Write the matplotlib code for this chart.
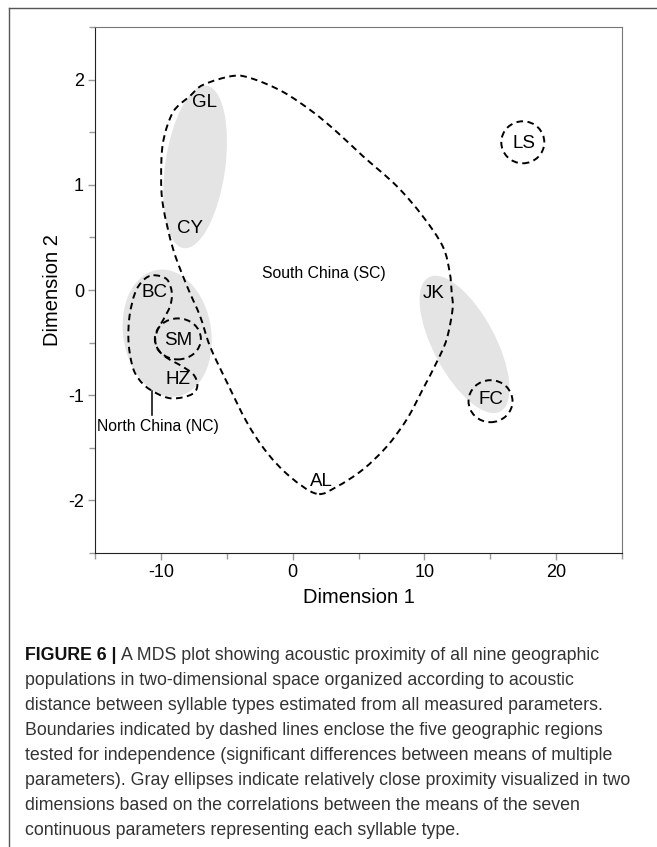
import numpy as np
import matplotlib
matplotlib.use("Agg")
import matplotlib.pyplot as plt
from matplotlib.path import Path
from matplotlib.patches import PathPatch, Ellipse
from matplotlib.lines import Line2D
from matplotlib.transforms import ScaledTranslation

plt.rcParams['font.family'] = ['Liberation Sans', 'DejaVu Sans']
plt.rcParams['axes.unicode_minus'] = False

# population positions (MDS dimension 1 / 2)
pops = ['GL', 'CY', 'BC', 'SM', 'HZ', 'AL', 'JK', 'FC', 'LS']
dim1 = [-6.67, -7.78, -10.5, -8.72, -8.69, 2.2, 10.72, 15.04, 17.54]
dim2 = [1.78, 0.587, -0.025, -0.48, -0.848, -1.82, -0.038, -1.044, 1.397]

# South China boundary (dashed loop)
sc_x = [1.82, -0.20, -1.95, -3.46, -4.98, -6.27, -7.02, -8.01, -9.07, -9.83,
        -9.98, -9.83, -9.07, -7.78, -6.80, -4.52, -3.01, -0.73, 1.54, 3.36,
        5.33, 7.90, 9.87, 11.39, 11.92, 12.07, 12.14, 11.69, 10.93, 9.87,
        8.66, 7.14, 5.33, 3.36]
sc_y = [-1.937, -1.774, -1.545, -1.260, -0.879, -0.536, -0.250, 0.035, 0.388, 0.797,
        1.083, 1.407, 1.692, 1.845, 1.950, 2.035, 2.007, 1.883, 1.692, 1.502,
        1.273, 0.988, 0.702, 0.416, 0.169, -0.021, -0.183, -0.469, -0.688, -0.946,
        -1.231, -1.489, -1.707, -1.869]

# North China boundary (dashed loop)
nc_x = [-10.56, -9.55, -9.17, -9.30, -9.80, -10.23, -10.43, -10.23, -9.55, -8.41,
        -7.53, -7.23, -7.48, -8.29, -9.30, -10.30, -11.32, -12.08, -12.45, -12.38,
        -11.95, -11.32]
nc_y = [0.140, 0.102, -0.025, -0.152, -0.279, -0.374, -0.470, -0.565, -0.644, -0.724,
        -0.803, -0.898, -0.977, -1.019, -1.029, -0.984, -0.898, -0.755, -0.501, -0.248,
        -0.025, 0.095]

# gray proximity ellipses: centre (data), semi-axes (px), angle (deg)
ell_cx = [-7.40, -9.52, 13.05]
ell_cy = [1.17, -0.41, -0.517]
ell_a = [82, 64, 76]
ell_b = [30, 44, 31]
ell_ang = [82, 99, -62]

# dashed circles around single populations
circ_cx = [17.47, 15.02, -8.71]
circ_cy = [1.404, -1.057, -0.465]
circ_a = [21.5, 22, 23]
circ_b = [21, 21, 20.5]

region_text = ['South China (SC)', 'North China (NC)']
region_x = [2.33, -10.24]
region_y = [0.159, -1.295]
leader_x = [-10.68, -10.68]
leader_y = [-0.96, -1.19]

caption_lines = [
    "A MDS plot showing acoustic proximity of all nine geographic",
    "populations in two-dimensional space organized according to acoustic",
    "distance between syllable types estimated from all measured parameters.",
    "Boundaries indicated by dashed lines enclose the five geographic regions",
    "tested for independence (significant differences between means of multiple",
    "parameters). Gray ellipses indicate relatively close proximity visualized in two",
    "dimensions based on the correlations between the means of the seven",
    "continuous parameters representing each syllable type.",
]

W, H = 657, 847
fig = plt.figure(figsize=(W / 100, H / 100), dpi=100)
ax = fig.add_axes([95 / W, 1 - 553 / H, 527 / W, 526 / H])
ax.set_xlim(-15, 25)
ax.set_ylim(-2.5, 2.5)
ax.set_xticks([-10, 0, 10, 20])
ax.set_xticks(np.arange(-15, 26, 5), minor=True)
ax.set_yticks([-2, -1, 0, 1, 2])
ax.set_yticks(np.arange(-2.5, 2.6, 0.5), minor=True)
ax.tick_params(which='both', direction='out', color='#9a9a9a', width=1,
               labelsize=13, pad=3)
ax.tick_params(which='major', length=5)
ax.tick_params(which='minor', length=4)
for s in ['left', 'bottom']:
    ax.spines[s].set_color('#222222')
for s in ['top', 'right']:
    ax.spines[s].set_color('#777777')
ax.set_xlabel('Dimension 1', fontsize=14.5)
ax.set_ylabel('Dimension 2', fontsize=14.5)
ax.xaxis.set_label_coords(0.5, -0.066)
ax.yaxis.set_label_coords(-0.063, 0.5)


def place(cx, cy):
    return fig.dpi_scale_trans + ScaledTranslation(cx, cy, ax.transData)


for cx, cy, a, b, ang in zip(ell_cx, ell_cy, ell_a, ell_b, ell_ang):
    ax.add_patch(Ellipse((0, 0), 2 * a / 100, 2 * b / 100, angle=ang,
                         transform=place(cx, cy), facecolor='#e4e4e4',
                         edgecolor='none', zorder=1))


def smooth_loop(xs, ys):
    p = np.column_stack([xs, ys])
    n = len(p)
    verts = [p[0]]
    codes = [Path.MOVETO]
    for i in range(n):
        p0, p1, p2, p3 = p[i - 1], p[i], p[(i + 1) % n], p[(i + 2) % n]
        verts += [p1 + (p2 - p0) / 6, p2 - (p3 - p1) / 6, p2]
        codes += [Path.CURVE4] * 3
    return Path(verts, codes)


dash = (0, (3.4, 2.3))
for xs, ys in [(sc_x, sc_y), (nc_x, nc_y)]:
    ax.add_patch(PathPatch(smooth_loop(xs, ys), fill=False, edgecolor='black',
                           lw=1.4, linestyle=dash, zorder=2))

for cx, cy, a, b in zip(circ_cx, circ_cy, circ_a, circ_b):
    ax.add_patch(Ellipse((0, 0), 2 * a / 100, 2 * b / 100,
                         transform=place(cx, cy), fill=False, edgecolor='black',
                         lw=1.4, linestyle=dash, zorder=2))

ax.plot(leader_x, leader_y, color='black', lw=1.1, zorder=2)

for name, x, y in zip(pops, dim1, dim2):
    ax.text(x, y, name, fontsize=13.5, ha='center', va='center', zorder=3)
for t, x, y in zip(region_text, region_x, region_y):
    ax.text(x, y, t, fontsize=11.3, ha='center', va='center', zorder=3)

# outer frame (top and left edges visible)
fig.add_artist(Line2D([8.5 / W, 8.5 / W], [1 - 8.5 / H, 0], transform=fig.transFigure,
                      color='#555555', lw=1))
fig.add_artist(Line2D([8.5 / W, 1], [1 - 8.5 / H, 1 - 8.5 / H], transform=fig.transFigure,
                      color='#555555', lw=1))

# caption
renderer = fig.canvas.get_renderer()
probe = fig.text(0, 0, caption_lines[5], fontsize=10)
wpx = probe.get_window_extent(renderer).width
probe.remove()
cap_size = 10 * 608 / wpx

x0 = 25
for i, line in enumerate(caption_lines):
    yb = 1 - (660 + 25 * i) / H
    if i == 0:
        bold = fig.text(x0 / W, yb, 'FIGURE 6 |', fontsize=cap_size, weight='bold',
                        color='#111111', va='baseline')
        bw = bold.get_window_extent(renderer).width
        fig.text((x0 + bw + cap_size * 0.35) / W, yb, line, fontsize=cap_size,
                 color='#333333', va='baseline')
    else:
        fig.text(x0 / W, yb, line, fontsize=cap_size, color='#333333', va='baseline')

fig.savefig('out.png', dpi=100)
